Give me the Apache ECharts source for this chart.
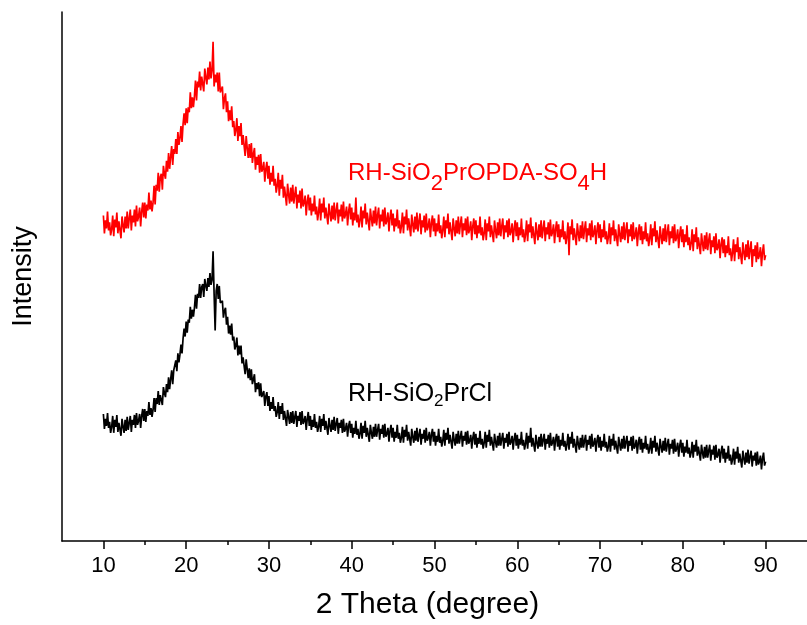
<!DOCTYPE html>
<html>
<head>
<meta charset="utf-8">
<title>XRD</title>
<script src="https://cdn.jsdelivr.net/npm/echarts@6/dist/echarts.min.js"></script>
<style>
    html,body{margin:0;padding:0;background:#fff;}
    #xrd{width:807px;height:625px;}
</style>
</head>
<body>
<div id="xrd"></div>
<script>
// 2θ grid of the scan: 10° .. 90°, step 0.125° (8 points per degree, one row per degree)
var xStart = 10;
var xStep = 0.125;

// intensity (a.u., curves stacked with an offset)
var sulfonated = [
    328,310,323,315,332,313,321,308,
    314,328,307,324,316,331,310,322,
    322,305,327,318,311,327,315,332,
    315,325,334,313,328,321,334,317,
    338,322,327,336,317,332,341,326,
    341,325,339,333,351,334,343,332,
    341,358,339,359,353,371,352,367,
    370,354,378,370,365,383,372,391,
    375,387,398,379,395,390,405,390,
    412,399,406,418,402,420,431,419,
    436,421,437,432,452,436,447,437,
    448,464,444,463,457,473,454,468,
    470,453,476,467,460,477,465,483,
    466,474,503,458,470,462,472,453,
    472,452,453,458,435,446,451,432,
    443,423,434,424,438,417,423,408,
    414,426,403,418,408,421,399,409,
    408,388,408,396,386,400,386,401,
    381,390,396,374,387,379,389,371,
    390,372,375,382,362,375,382,365,
    378,359,371,362,378,358,365,351,
    358,371,348,364,355,369,346,357,
    357,338,360,349,340,356,342,359,
    340,349,357,335,349,341,353,335,
    355,337,341,348,328,342,349,333,
    346,328,340,332,348,329,337,323,
    331,345,323,340,331,346,325,336,
    337,319,340,330,322,338,324,341,
    323,333,341,320,334,327,339,322,
    342,325,329,337,318,332,340,324,
    336,318,331,323,346,321,329,316,
    323,337,316,333,325,340,319,331,
    331,313,335,325,317,333,320,337,
    318,328,336,315,329,322,334,317,
    336,319,323,331,312,326,334,318,
    330,312,325,317,334,315,323,310,
    317,331,310,327,319,334,313,325,
    325,307,329,319,311,327,314,331,
    312,322,330,309,323,316,328,311,
    330,313,317,325,306,320,328,312,
    325,307,320,312,329,310,318,305,
    313,327,306,323,315,330,309,321,
    321,303,325,315,307,323,310,327,
    309,319,327,306,320,313,325,308,
    327,310,314,322,303,317,325,309,
    323,305,318,310,327,308,316,303,
    310,324,303,320,312,327,306,318,
    319,301,323,313,305,321,308,325,
    307,317,325,304,318,311,323,306,
    325,308,312,320,301,315,323,307,
    321,303,316,308,325,306,314,301,
    309,323,302,319,311,326,305,317,
    317,299,321,311,303,319,306,323,
    305,315,323,302,316,309,321,304,
    324,307,311,319,300,314,322,306,
    319,301,314,306,323,304,312,299,
    307,321,288,317,309,324,303,315,
    316,298,320,310,302,318,305,322,
    304,314,322,301,315,308,320,303,
    323,306,310,318,299,313,321,305,
    319,301,314,306,323,304,312,299,
    306,320,299,316,308,323,302,314,
    315,297,319,309,301,317,304,321,
    303,313,321,300,314,307,319,302,
    321,304,308,316,297,311,319,303,
    317,299,312,304,321,302,310,297,
    305,319,298,315,307,322,301,313,
    313,295,317,307,299,315,302,319,
    301,311,319,298,312,305,317,300,
    319,302,306,314,295,309,317,301,
    314,296,309,301,318,298,306,293,
    300,314,292,309,301,316,294,306,
    307,289,310,300,292,308,294,311,
    293,303,310,289,303,296,307,290,
    310,293,296,304,285,299,306,290,
    304,286,298,290,307,288,295,282,
    290,304,282,299,291,306,284,296,
    297,279,301,291,283,299,286,303,
    284,294,302,276,294,287,298,281,
    301,284,288,296,277,291,299,283,
    288
];
var chloride = [
    128,113,123,116,129,114,120,109,
    115,126,109,122,115,127,110,119,
    120,106,123,115,109,122,111,125,
    112,119,126,110,122,117,127,114,
    129,117,121,128,114,126,133,121,
    133,120,131,126,140,127,134,125,
    132,144,130,144,138,151,137,147,
    149,137,155,149,145,158,150,165,
    153,163,172,158,172,170,182,171,
    189,180,188,198,189,204,214,206,
    221,210,223,220,236,224,233,226,
    235,248,234,249,245,259,245,256,
    259,246,264,257,252,265,256,270,
    258,263,292,249,212,252,259,244,
    257,240,240,242,225,232,235,218,
    226,209,217,208,219,202,206,193,
    197,205,187,197,188,197,179,185,
    184,168,183,173,164,174,162,173,
    158,163,168,150,159,153,160,146,
    159,145,146,151,136,146,150,136,
    146,131,140,133,145,131,136,125,
    130,140,123,136,128,139,122,131,
    131,116,132,125,118,130,119,131,
    118,125,131,115,126,121,130,117,
    131,118,121,126,112,123,130,116,
    126,112,122,115,128,114,120,110,
    115,126,110,123,116,128,112,121,
    121,107,124,116,110,122,112,125,
    111,118,124,108,119,114,122,109,
    123,110,113,119,105,116,121,109,
    118,104,114,108,121,107,113,103,
    108,119,103,116,109,121,105,114,
    114,100,117,109,103,115,105,118,
    105,112,118,102,113,108,117,104,
    118,105,108,114,100,111,117,104,
    114,100,110,104,117,103,109,99,
    104,115,99,112,105,117,101,110,
    110,96,113,105,99,111,101,114,
    100,107,113,97,108,103,112,99,
    114,101,104,110,96,107,113,100,
    110,96,106,100,113,99,105,95,
    101,112,96,109,102,114,98,107,
    107,93,110,102,96,108,98,111,
    98,105,111,95,106,101,110,97,
    111,98,101,107,93,104,110,97,
    108,94,104,98,111,97,103,93,
    99,110,94,107,100,112,96,105,
    105,91,108,100,94,106,96,109,
    96,103,109,93,104,99,108,95,
    110,97,100,106,92,103,109,96,
    107,93,103,97,110,96,102,92,
    98,109,93,106,99,114,95,104,
    104,90,107,99,93,105,95,108,
    95,102,108,92,103,98,107,94,
    109,96,99,105,91,102,108,95,
    106,92,102,96,109,95,101,91,
    97,108,92,105,98,110,94,103,
    103,89,106,98,92,104,94,107,
    94,101,107,91,102,97,106,93,
    108,95,98,104,90,101,107,94,
    105,91,101,95,108,94,100,90,
    95,106,90,103,96,108,92,101,
    102,88,105,97,91,103,93,106,
    93,100,106,90,101,96,105,91,
    106,93,96,102,88,99,105,92,
    103,89,99,93,106,92,98,88,
    93,104,88,101,94,106,90,99,
    100,86,103,95,89,101,91,104,
    90,97,103,87,98,93,102,88,
    103,90,93,99,85,96,102,89,
    99,85,95,89,102,88,94,84,
    89,100,84,97,90,102,86,95,
    95,81,97,89,83,95,84,97,
    84,91,97,81,92,87,96,82,
    97,84,87,93,79,90,96,83,
    93,79,89,83,96,81,87,77,
    82,93,77,90,83,95,79,88,
    88,74,91,83,77,89,79,92,
    78,85,91,75,86,81,89,76,
    90,77,80,86,72,83,89,76,
    80
];
var majorTicks = [10,20,30,40,50,60,70,80,90];
var minorTicks = [15,25,35,45,55,65,75,85];

function toPairs(values){
    var out=[];
    for(var i=0;i<values.length;i++){
        out.push([xStart+i*xStep, values[i]]);
    }
    return out;
}

var myChart = echarts.init(document.getElementById('xrd'));
var font = '"Liberation Sans", Arial, sans-serif';

var option = {
    animation: false,
    backgroundColor: '#fff',
    grid: {left: 62, right: -6, top: 12, bottom: 80},
    xAxis: [{
        type: 'value',
        min: 5,
        max: 95,
        name: '2 Theta (degree)',
        nameLocation: 'middle',
        nameGap: 49,
        nameTextStyle: {color: '#000', fontSize: 30, fontFamily: font, padding: [0, 14, 0, 0]},
        axisLine: {lineStyle: {color: '#000', width: 1.5}},
        axisTick: {show: true, length: 8, customValues: majorTicks, lineStyle: {color: '#000', width: 1.5}},
        axisLabel: {customValues: majorTicks, color: '#000', fontSize: 22, fontFamily: font, margin: 14},
        splitLine: {show: false}
    },{
        // short ticks halfway between the labelled ones
        type: 'value',
        min: 5,
        max: 95,
        position: 'bottom',
        axisLine: {show: false},
        axisTick: {show: true, length: 4, customValues: minorTicks, lineStyle: {color: '#000', width: 1.5}},
        axisLabel: {show: false},
        splitLine: {show: false}
    }],
    yAxis: {
        type: 'value',
        min: 0,
        max: 533,
        name: 'Intensity',
        nameLocation: 'middle',
        nameGap: 25,
        nameTextStyle: {color: '#000', fontSize: 27, fontFamily: font},
        axisLine: {show: true, lineStyle: {color: '#000', width: 1.5}},
        axisTick: {show: false},
        axisLabel: {show: false},
        splitLine: {show: false}
    },
    graphic: [{
        type: 'text',
        x: 348,
        y: 166,
        style: {
            text: '{a|RH-SiO}{s|2}{a|PrOPDA-SO}{s|4}{a|H}',
            fill: '#ff0000',
            verticalAlign: 'top',
            rich: {
                a: {fontSize: 24, lineHeight: 24, fontFamily: font, color: '#ff0000', padding: [0,0,9,0], verticalAlign: 'middle'},
                s: {fontSize: 22, lineHeight: 22, fontFamily: font, color: '#ff0000', padding: [11,0,0,0], verticalAlign: 'middle'}
            }
        }
    },{
        type: 'text',
        x: 348,
        y: 383,
        style: {
            text: '{a|RH-SiO}{s|2}{a|PrCl}',
            fill: '#000',
            verticalAlign: 'top',
            rich: {
                a: {fontSize: 25, lineHeight: 25, fontFamily: font, color: '#000', padding: [0,0,3,0], verticalAlign: 'middle'},
                s: {fontSize: 17, lineHeight: 17, fontFamily: font, color: '#000', padding: [11,0,0,0], verticalAlign: 'middle'}
            }
        }
    }],
    series: [{
        name: 'RH-SiO2PrOPDA-SO4H',
        type: 'line',
        data: toPairs(sulfonated),
        showSymbol: false,
        lineStyle: {color: '#ff0000', width: 1.7},
        itemStyle: {color: '#ff0000'}
    },{
        name: 'RH-SiO2PrCl',
        type: 'line',
        data: toPairs(chloride),
        showSymbol: false,
        lineStyle: {color: '#000', width: 1.7},
        itemStyle: {color: '#000'}
    }]
};

myChart.setOption(option);
</script>
</body>
</html>
